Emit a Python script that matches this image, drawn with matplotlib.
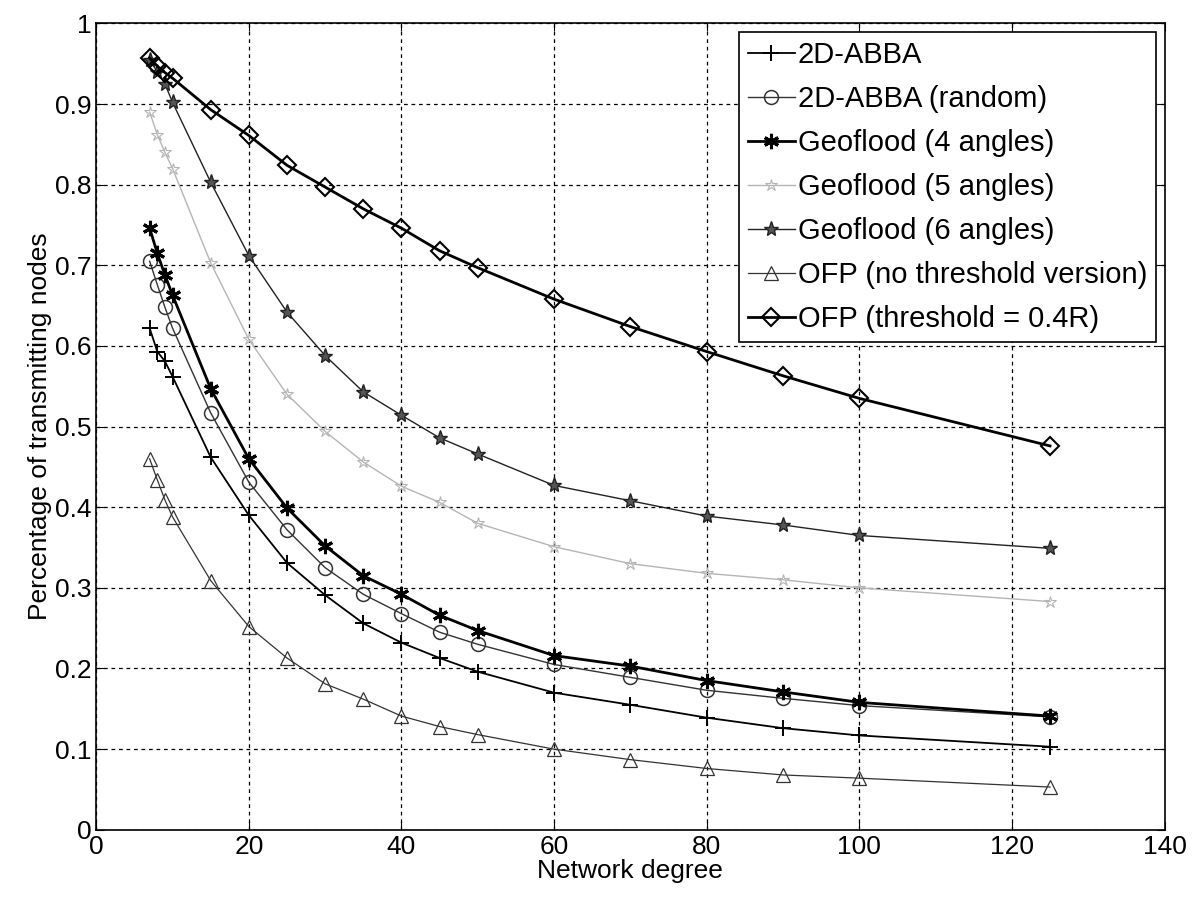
import matplotlib.pyplot as plt

plt.rcParams['font.family'] = ['Liberation Sans', 'DejaVu Sans']

# network degree (x) shared by all series
degree = [7, 8, 9, 10, 15, 20, 25, 30, 35, 40, 45, 50, 60, 70, 80, 90, 100, 125]

abba = [0.622, 0.593, 0.581, 0.562, 0.462, 0.390, 0.331, 0.291, 0.256, 0.232,
        0.213, 0.196, 0.170, 0.155, 0.139, 0.126, 0.117, 0.103]
abba_random = [0.705, 0.676, 0.648, 0.622, 0.517, 0.431, 0.372, 0.325, 0.292, 0.268,
               0.245, 0.230, 0.205, 0.189, 0.173, 0.163, 0.154, 0.140]
geo4 = [0.746, 0.715, 0.688, 0.663, 0.547, 0.460, 0.399, 0.352, 0.315, 0.292,
        0.266, 0.247, 0.216, 0.203, 0.185, 0.171, 0.158, 0.141]
geo5 = [0.890, 0.862, 0.840, 0.820, 0.703, 0.608, 0.540, 0.494, 0.456, 0.426,
        0.406, 0.380, 0.351, 0.330, 0.318, 0.310, 0.300, 0.283]
geo6 = [0.955, 0.940, 0.925, 0.902, 0.803, 0.712, 0.642, 0.588, 0.543, 0.514,
        0.486, 0.466, 0.427, 0.408, 0.389, 0.378, 0.365, 0.349]
ofp_nothr = [0.460, 0.434, 0.409, 0.388, 0.309, 0.252, 0.213, 0.181, 0.162, 0.141,
             0.128, 0.118, 0.100, 0.087, 0.076, 0.068, 0.064, 0.053]
ofp_thr = [0.957, 0.947, 0.939, 0.932, 0.893, 0.861, 0.824, 0.797, 0.770, 0.746,
           0.718, 0.697, 0.658, 0.624, 0.593, 0.563, 0.535, 0.476]

x_ticks = [0, 20, 40, 60, 80, 100, 120, 140]
y_ticks = [0, 0.1, 0.2, 0.3, 0.4, 0.5, 0.6, 0.7, 0.8, 0.9, 1]
y_tick_labels = ['0', '0.1', '0.2', '0.3', '0.4', '0.5', '0.6', '0.7', '0.8', '0.9', '1']

fig = plt.figure(figsize=(12.03, 8.99), dpi=100)
ax = fig.add_axes([0.080, 0.077, 0.888, 0.897])

ax.plot(degree, abba, color='black', lw=1.3, marker='+', ms=12, mew=1.4,
        label='2D-ABBA')
ax.plot(degree, abba_random, color='#333333', lw=1.0, marker='o', ms=10,
        mfc='none', mew=1.1, label='2D-ABBA (random)')
ax.plot(degree, geo4, color='black', lw=2.0, marker=(6, 2, 0), ms=11, mew=2.2,
        label='Geoflood (4 angles)')
ax.plot(degree, geo5, color='#b5b5b5', lw=1.0, marker='*', ms=9, mfc='none',
        mew=0.8, label='Geoflood (5 angles)')
ax.plot(degree, geo6, color='#222222', lw=1.0, marker='*', ms=11, mfc='#555555',
        mew=1.0, label='Geoflood (6 angles)')
ax.plot(degree, ofp_nothr, color='#333333', lw=0.9, marker='^', ms=10, mfc='none',
        mew=0.9, label='OFP (no threshold version)')
ax.plot(degree, ofp_thr, color='black', lw=2.0, marker='D', ms=9, mfc='none',
        mew=1.5, label='OFP (threshold = 0.4R)')

ax.set_xlim(0, 140)
ax.set_ylim(0, 1)
ax.set_xticks(x_ticks)
ax.set_yticks(y_ticks, y_tick_labels)
ax.tick_params(direction='in', top=True, right=True, labelsize=19, length=6)
ax.grid(True, color='black', linestyle=(0, (3, 3)), linewidth=0.9)
for s in ax.spines.values():
    s.set_linewidth(1.2)

ax.set_xlabel('Network degree', fontsize=19, labelpad=0)
ax.set_ylabel('Percentage of transmitting nodes', fontsize=19, labelpad=2)

leg = ax.legend(loc='upper right', fontsize=21, frameon=True, fancybox=False,
                edgecolor='black', framealpha=1, handlelength=1.6,
                handletextpad=0.1, borderaxespad=0.3, labelspacing=0.55,
                borderpad=0.3)
leg.get_frame().set_linewidth(1.2)

fig.savefig('out.png', dpi=100)
